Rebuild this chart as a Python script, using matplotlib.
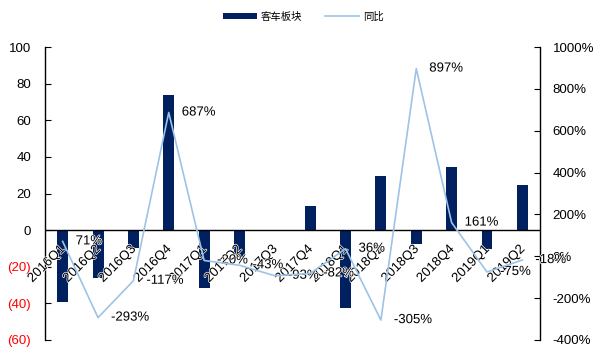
import matplotlib.pyplot as plt
import matplotlib.ticker as mticker
import matplotlib.patheffects as pe

plt.rcParams['font.family'] = ['Liberation Sans', 'Noto Sans CJK SC', 'DejaVu Sans']

quarters = ['2016Q1', '2016Q2', '2016Q3', '2016Q4', '2017Q1', '2017Q2', '2017Q3',
            '2017Q4', '2018Q1', '2018Q2', '2018Q3', '2018Q4', '2019Q1', '2019Q2']
# 客车板块
sector = [-39.5, -26, -10, 74, -31.8, -14.5, -0.5, 13.2, -42.7, 29.6, -7.8, 34.3, -10.5, 24.9]
# 同比 (%)
yoy = [71, -293, -117, 687, -20, -43, -93, -82, 36, -305, 897, 161, -75, -18]

bar_color = '#002060'
line_color = '#9DC3E6'
halo = [pe.withStroke(linewidth=1.0, foreground='white')]

fig = plt.figure(figsize=(5.95, 3.49), dpi=100)
ax = fig.add_axes([0.0756, 0.0258, 0.832, 0.8395])
ax2 = ax.twinx()

x = list(range(len(quarters)))
ax.bar(x, sector, width=0.31, color=bar_color, label='客车板块', zorder=2)
ax.axhline(0, color='black', lw=1.0, zorder=3)
ax.set_xlim(-0.5, len(quarters) - 0.5)
ax.set_ylim(-60, 100)
ax.set_yticks(range(-60, 101, 20))


def paren_fmt(v, pos):
    v = int(round(v))
    return f'({abs(v)})' if v < 0 else f'{v}'


ax.yaxis.set_major_formatter(mticker.FuncFormatter(paren_fmt))
for t, v in zip(ax.get_yticklabels(), ax.get_yticks()):
    if v < 0:
        t.set_color('red')
ax.set_xticks([])
ax.tick_params(axis='y', direction='in', length=4, labelsize=9.5, pad=10)
for s in ['top', 'bottom', 'right']:
    ax.spines[s].set_visible(False)
ax.spines['left'].set_linewidth(1.0)

# category labels sit just under the zero line
for i, q in enumerate(quarters):
    ax.text(i + 0.15, -7.0, q, rotation=45, ha='right', va='top', fontsize=9.5,
            zorder=5, path_effects=halo)

ax2.plot(x, yoy, color=line_color, lw=1.2, label='同比', zorder=4)
ax2.set_ylim(-400, 1000)
ax2.set_yticks(range(-400, 1001, 200))
ax2.yaxis.set_major_formatter(mticker.FuncFormatter(lambda v, p: f'{int(round(v))}%'))
ax2.tick_params(axis='y', direction='in', length=4, labelsize=9.5, pad=9)
for s in ['top', 'bottom', 'left']:
    ax2.spines[s].set_visible(False)
ax2.spines['right'].set_linewidth(1.0)

for i, v in enumerate(yoy):
    ax2.annotate(f'{v}%', (i, v), xytext=(13, 0), textcoords='offset pixels',
                 ha='left', va='center', fontsize=9.5, path_effects=halo)

h1, l1 = ax.get_legend_handles_labels()
h2, l2 = ax2.get_legend_handles_labels()
fig.legend(h1 + h2, l1 + l2, loc='center', bbox_to_anchor=(0.51, 0.953), ncol=2,
           frameon=False, handlelength=3.2, handleheight=0.6,
           columnspacing=2.2, handletextpad=0.4,
           prop={'family': ['Noto Sans CJK SC'], 'size': 7.5})

fig.savefig('out.png', dpi=100)
